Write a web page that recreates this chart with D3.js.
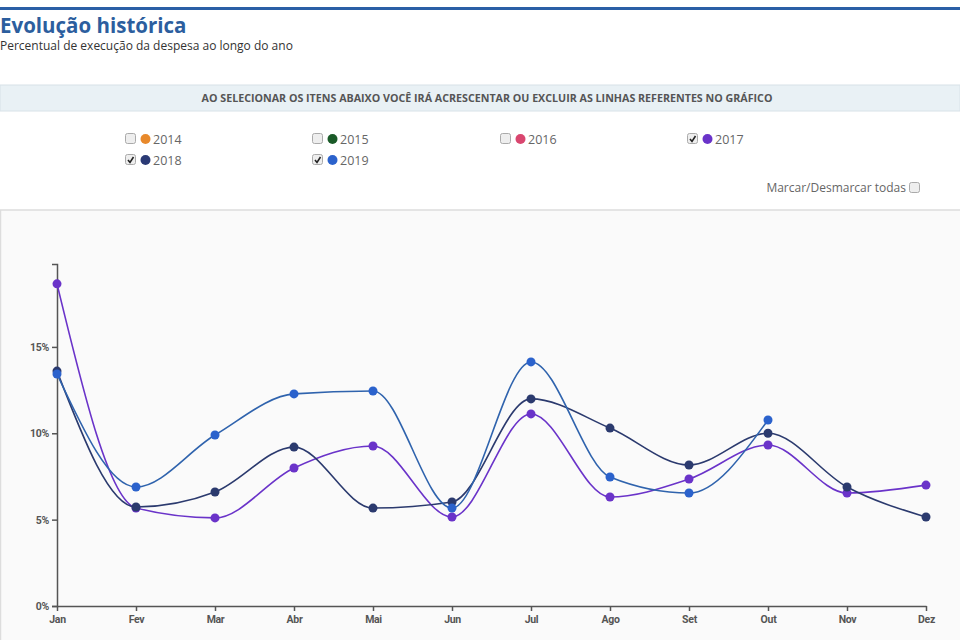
<!DOCTYPE html>
<html><head><meta charset="utf-8">
<script src="https://cdn.jsdelivr.net/npm/d3@7/dist/d3.min.js"></script>
<style>
body{margin:0;width:960px;height:640px;overflow:hidden;background:#fff;font-family:"Open Sans",sans-serif;}
svg{display:block}
</style></head><body>
<svg id="c" width="960" height="640"></svg>
<script>
const months = ["Jan","Fev","Mar","Abr","Mai","Jun","Jul","Ago","Set","Out","Nov","Dez"];
const legendYears = ["2014","2015","2016","2017","2018","2019"];
const legendColors = ["#e8892b","#1a5a28","#d9466f","#6a33c9","#2b3a75","#2b62cc"];
const legendChecked = [false,false,false,true,true,true];
const yTicks = [0,5,10,15];
const yMax = 19.8;
const s2017 = [18.65,5.67,5.1,7.99,9.26,5.15,11.12,6.31,7.35,9.32,6.54,7.0];
const s2018 = [13.6,5.73,6.6,9.2,5.67,6.02,11.99,10.3,8.16,10.0,6.89,5.15];
const s2019 = [13.43,6.89,9.9,12.28,12.45,5.67,14.13,7.47,6.54,10.77];
const series = [
  {name:"2017", values:s2017, line:"#6a33c9", dot:"#6a33c9"},
  {name:"2018", values:s2018, line:"#2b3a6e", dot:"#2b3a6e"},
  {name:"2019", values:s2019, line:"#2f63ad", dot:"#2b62cc"}
];

const svg = d3.select("#c");
svg.append("rect").attr("x",0).attr("y",7).attr("width",960).attr("height",3).attr("fill","#2a5fa6");
svg.append("text").attr("x",0).attr("y",33).attr("fill","#2c5e9e").attr("font-size",20.5).attr("font-weight",700)
  .attr("font-family","Open Sans").text("Evolução histórica");
svg.append("text").attr("x",0).attr("y",50).attr("fill","#333").attr("font-size",12)
  .attr("font-family","Open Sans").text("Percentual de execução da despesa ao longo do ano");
svg.append("rect").attr("x",0).attr("y",85).attr("width",960).attr("height",26).attr("fill","#e9f1f5")
  .attr("stroke","#d8e2e8");
svg.append("text").attr("x",487).attr("y",102).attr("text-anchor","middle").attr("fill","#555")
  .attr("font-size",10.7).attr("font-weight",700).attr("font-family","Open Sans")
  .text("AO SELECIONAR OS ITENS ABAIXO VOCÊ IRÁ ACRESCENTAR OU EXCLUIR AS LINHAS REFERENTES NO GRÁFICO");
const colX = [125,312,500,687];
function checkbox(g,x,y,checked){
  g.append("rect").attr("x",x+0.5).attr("y",y-5.5).attr("width",10).attr("height",10).attr("rx",2)
   .attr("fill","#eee").attr("stroke","#aaa");
  if(checked) g.append("path").attr("d",`M${x+3},${y} L${x+5},${y+2.5} L${x+8.5},${y-3}`)
   .attr("fill","none").attr("stroke","#222").attr("stroke-width",1.6);
}
const lg = svg.append("g");
legendYears.forEach((yr,i)=>{
  const x = colX[i%4], y = 139 + Math.floor(i/4)*21;
  checkbox(lg,x,y,legendChecked[i]);
  lg.append("circle").attr("cx",x+20.5).attr("cy",y).attr("r",5).attr("fill",legendColors[i]);
  lg.append("text").attr("x",x+28).attr("y",y+4.5).attr("fill","#666").attr("font-size",12.5)
    .attr("font-family","Open Sans").text(yr);
});
lg.append("text").attr("x",906).attr("y",192).attr("text-anchor","end").attr("fill","#666")
  .attr("font-size",12).attr("font-family","Open Sans").text("Marcar/Desmarcar todas");
checkbox(lg,909,188,false);
svg.append("rect").attr("x",0.5).attr("y",210).attr("width",970).attr("height",440)
  .attr("fill","#fafafa").attr("stroke","#ddd").attr("stroke-width",1.5);

const x = d3.scalePoint().domain(months).range([57,926]);
const y = d3.scaleLinear().domain([0,yMax]).range([606,264]);
const g = svg.append("g");
const ya = g.append("g").attr("transform","translate(57,0)")
  .call(d3.axisLeft(y).tickValues(yTicks).tickFormat(d=>d+"%").tickSize(5).tickSizeOuter(5));
const xa = g.append("g").attr("transform","translate(0,606)")
  .call(d3.axisBottom(x).tickSize(5).tickSizeOuter(0));
[ya,xa].forEach(a=>{
  a.selectAll("path,line").attr("stroke","#555").attr("stroke-width",1.5);
  a.selectAll("text").attr("fill","#555").attr("font-family","Roboto").attr("font-weight",700)
   .attr("font-size",10.5).style("letter-spacing","-0.3px");
});
xa.selectAll("text").attr("dy","0.9em");
const line = d3.line().x((d,i)=>x(months[i])).y(d=>y(d)).curve(d3.curveMonotoneX);
series.forEach(s=>{
  g.append("path").attr("d",line(s.values)).attr("fill","none").attr("stroke",s.line).attr("stroke-width",1.6);
});
series.forEach(s=>{
  g.selectAll(null).data(s.values).enter().append("circle")
   .attr("cx",(d,i)=>x(months[i])).attr("cy",d=>y(d)).attr("r",4.5).attr("fill",s.dot);
});
</script>
</body></html>
